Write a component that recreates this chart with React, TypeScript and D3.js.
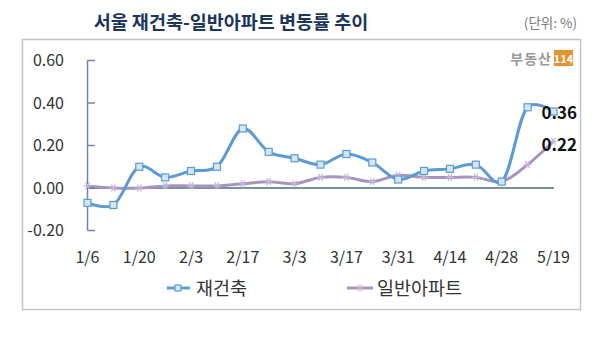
import React from "react";
import { scalePoint, scaleLinear, line, curveCatmullRom } from "d3";

const dates = ["1/6", "1/13", "1/20", "1/27", "2/3", "2/10", "2/17", "2/24", "3/3", "3/10", "3/17", "3/24", "3/31", "4/7", "4/14", "4/21", "4/28", "5/12", "5/19"];
const rebuild = [-0.07, -0.08, 0.1, 0.05, 0.08, 0.1, 0.28, 0.17, 0.14, 0.11, 0.16, 0.12, 0.04, 0.08, 0.09, 0.11, 0.03, 0.38, 0.36];
const general = [0.01, 0.0, 0.0, 0.01, 0.01, 0.01, 0.02, 0.03, 0.02, 0.05, 0.05, 0.03, 0.06, 0.05, 0.05, 0.05, 0.03, 0.11, 0.22];
const xTickLabels = ["1/6", "1/20", "2/3", "2/17", "3/3", "3/17", "3/31", "4/14", "4/28", "5/19"];
const yTicks = [0.6, 0.4, 0.2, 0.0, -0.2];

const BLUE = "#5b9bd5";
const PURPLE = "#a893c0";
const FONT = "'Noto Sans CJK KR', 'Noto Sans', sans-serif";

const Star = ({ cx, cy, r = 4, color }: { cx: number; cy: number; r?: number; color: string }) => {
  // asterisk marker like excel's "*"
  const d = [0, 60, 120].map((a) => {
    const rad = (a * Math.PI) / 180;
    const dx = Math.cos(rad) * r, dy = Math.sin(rad) * r;
    return `M${cx - dx},${cy - dy}L${cx + dx},${cy + dy}`;
  }).join("");
  return <path d={d} stroke={color} strokeWidth={1.2} fill="none" />;
};

const App: React.FC = () => {
  const width = 600;
  const height = 362;

  const x = scalePoint<string>().domain(dates).range([87.5, 553.5]);
  const y = scaleLinear().domain([-0.2, 0.6]).range([230.5, 60.5]);

  const lineGen = line<number>()
    .x((_d, i) => x(dates[i]) as number)
    .y((d) => y(d))
    .curve(curveCatmullRom.alpha(0.2));

  const lastX = x(dates[dates.length - 1]) as number;

  return (
    <svg width={width} height={height} style={{ position: "absolute", left: 0, top: 0, fontFamily: FONT }}>
      <rect x={0} y={0} width={width} height={height} fill="#fff" />
      {/* title */}
      <text x={231} y={29} textAnchor="middle" fontSize={18.5} fontWeight="bold" fill="#1c355a">
        서울 재건축-일반아파트 변동률 추이
      </text>
      <text x={577} y={28} textAnchor="end" fontSize={13.5} fill="#7a7a7a">
        (단위: %)
      </text>

      {/* frame */}
      <rect x={22.5} y={39.5} width={558} height={270} fill="none" stroke="#c4c4c4" strokeWidth={1.5} />

      {/* logo */}
      <text x={552} y={64} textAnchor="end" fontSize={14} fontWeight="bold" letterSpacing={1} fill="#9a9a9a">부동산</text>
      <rect x={554} y={50} width={19} height={16} fill="#e8922e" />
      <text x={563.5} y={62.5} textAnchor="middle" fontSize={11} fontWeight="bold" fill="#fff">114</text>

      {/* y axis */}
      <line x1={87.5} x2={87.5} y1={y(0.6)} y2={y(-0.2)} stroke="#6d87a3" strokeWidth={1.5} />
      {yTicks.map((t) => (
        <g key={t}>
          <line x1={87.5} x2={95} y1={y(t)} y2={y(t)} stroke="#6d87a3" strokeWidth={1.5} />
          <text x={64} y={y(t) + 5.5} textAnchor="end" fontSize={16} fill="#333">
            {t.toFixed(2)}
          </text>
        </g>
      ))}

      {/* zero line */}
      <line x1={87.5} x2={554} y1={y(0)} y2={y(0)} stroke="#456f7c" strokeWidth={1.5} />

      {/* x labels */}
      {xTickLabels.map((l) => (
        <text key={l} x={x(l) as number} y={263} textAnchor="middle" fontSize={16} fill="#333">
          {l}
        </text>
      ))}

      {/* general apartments */}
      <path d={lineGen(general) || ""} fill="none" stroke={PURPLE} strokeWidth={3} />
      {general.map((v, i) => (
        <Star key={i} cx={x(dates[i]) as number} cy={y(v)} color="#c6b7d8" />
      ))}

      {/* rebuild */}
      <path d={lineGen(rebuild) || ""} fill="none" stroke={BLUE} strokeWidth={3} />
      {rebuild.map((v, i) => (
        <rect key={i} x={(x(dates[i]) as number) - 3.5} y={y(v) - 3.5} width={7} height={7} fill="#d6e5f4" stroke={BLUE} strokeWidth={1.2} />
      ))}

      {/* end labels */}
      <text x={lastX - 12} y={y(0.36) + 7} fontSize={17} fontWeight="bold" fill="#111">0.36</text>
      <text x={lastX - 12} y={y(0.22) + 10} fontSize={17} fontWeight="bold" fill="#111">0.22</text>

      {/* legend */}
      <line x1={167} x2={190} y1={288} y2={288} stroke={BLUE} strokeWidth={3} />
      <rect x={175} y={285} width={6} height={6} fill="#d6e5f4" stroke={BLUE} strokeWidth={1.2} />
      <text x={196} y={294.5} fontSize={18.5} fill="#333">재건축</text>
      <line x1={347} x2={373} y1={288} y2={288} stroke={PURPLE} strokeWidth={3} />
      <Star cx={360} cy={288} r={3.5} color="#c6b7d8" />
      <text x={377} y={294.5} fontSize={18.5} fill="#333">일반아파트</text>
    </svg>
  );
};

export default App;
